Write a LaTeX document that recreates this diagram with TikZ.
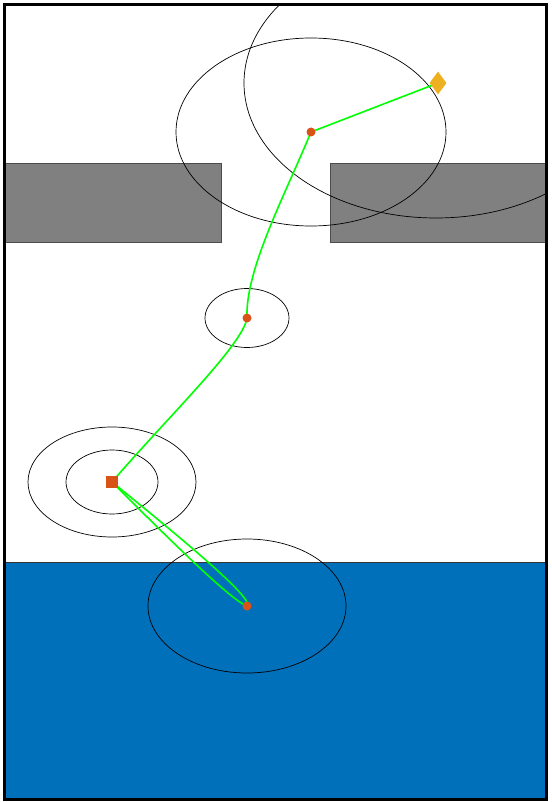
\documentclass[tikz,border=0pt]{standalone}
\usetikzlibrary{shapes.geometric}
\definecolor{wallgray}{RGB}{128,128,128}
\definecolor{waterblue}{RGB}{0,112,187}
\definecolor{dotred}{RGB}{217,83,25}
\definecolor{goldy}{RGB}{237,177,32}
\definecolor{pathgreen}{RGB}{0,255,0}
\tikzset{
  wall/.style={fill=wallgray,draw=black!70,line width=0.6pt},
  water/.style={fill=waterblue,draw=black!80,line width=0.8pt},
  ring/.style={draw=black,line width=0.7pt},
  route/.style={draw=pathgreen,line width=1.6pt},
  waypoint/.style={circle,fill=dotred,inner sep=0pt,minimum size=9pt},
  startmark/.style={rectangle,fill=dotred,inner sep=0pt,minimum size=12.5pt},
  goalmark/.style={diamond,fill=goldy,inner sep=0pt,minimum width=17pt,minimum height=23pt},
  frame/.style={draw=black,line width=3.5pt}
}
\begin{document}
\begin{tikzpicture}[x=1pt,y=-1pt]
\useasboundingbox (0,0) rectangle (551,802);
\fill[white] (0,0) rectangle (551,802);
% obstacles and water
\path[wall] (4,163) rectangle (221,242);
\path[wall] (330,163) rectangle (547,242);
\path[water] (4,562) rectangle (547,800);
% coordinates of markers
\coordinate (pG) at (438,83);
\coordinate (p1) at (311,132);
\coordinate (p2) at (247,318);
\coordinate (pS) at (112,482);
\coordinate (p3) at (247,606);
% ellipses
\begin{scope}
\clip (4,4) rectangle (547,800);
\draw[ring] (436,83) ellipse [x radius=192pt, y radius=135pt];
\end{scope}
\draw[ring] (p1) ellipse [x radius=135pt, y radius=94pt];
\draw[ring] (p2) ellipse [x radius=42pt, y radius=29.5pt];
\draw[ring] (pS) ellipse [x radius=46pt, y radius=32pt];
\draw[ring] (pS) ellipse [x radius=84pt, y radius=55pt];
\draw[ring] (p3) ellipse [x radius=99pt, y radius=67pt];
% route
\draw[route] (pG) -- (p1);
\draw[route] (p1) .. controls (285,195) and (245,270) .. (p2);
\draw[route] (p2) .. controls (243,345) and (165,420) .. (pS);
\draw[route] (pS) .. controls (190,545) and (255,600) .. (p3);
\draw[route] (p3) .. controls (230,600) and (160,530) .. (pS);
% markers
\node[goalmark] (goal) at (pG) {};
\node[waypoint] (w1) at (p1) {};
\node[waypoint] (w2) at (p2) {};
\node[startmark] (start) at (pS) {};
\node[waypoint] (w3) at (p3) {};
% frame
\draw[frame] (4.5,4.5) rectangle (546.5,799.5);
\end{tikzpicture}
\end{document}
